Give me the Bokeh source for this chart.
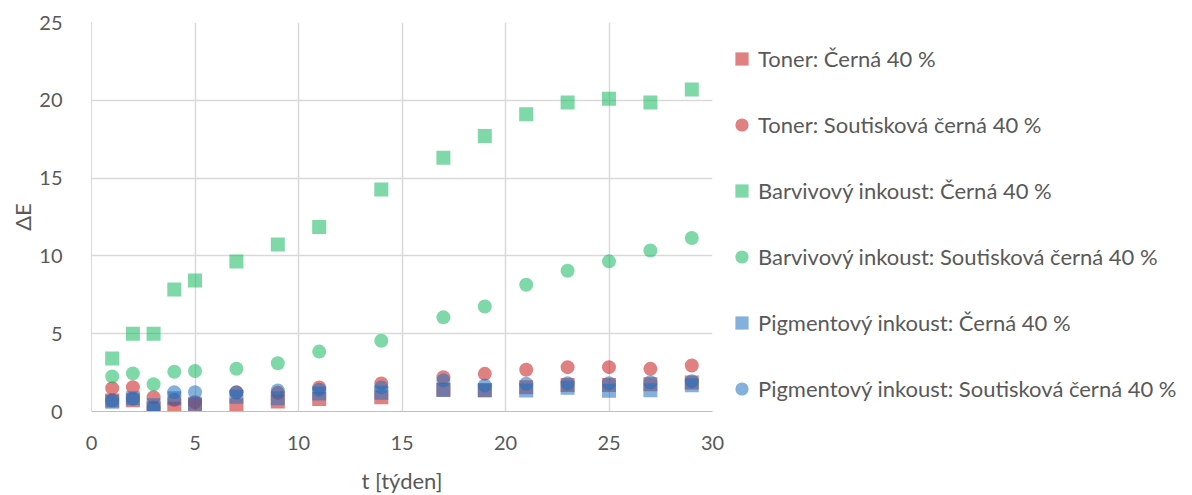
from bokeh.plotting import figure
from bokeh.models import Legend, LegendItem, FixedTicker, ColumnDataSource
from bokeh.embed import file_html
from bokeh.resources import INLINE

# Time in weeks
t = [1, 2, 3, 4, 5, 7, 9, 11, 14, 17, 19, 21, 23, 25, 27, 29]

# Colour difference ΔE per print technology and patch
toner_cerna = [0.70, 0.73, 0.20, 0.18, 0.40, 0.40, 0.65, 0.80, 0.92, 1.40, 1.37, 1.56, 1.70, 1.70, 1.75, 1.86]
toner_soutisk = [1.50, 1.56, 0.92, 0.75, 0.60, 1.22, 1.20, 1.55, 1.80, 2.20, 2.42, 2.68, 2.85, 2.85, 2.74, 2.96]
barv_cerna = [3.40, 5.00, 5.00, 7.84, 8.42, 9.64, 10.73, 11.85, 14.27, 16.30, 17.70, 19.10, 19.86, 20.10, 19.86, 20.70]
barv_soutisk = [2.25, 2.45, 1.75, 2.55, 2.60, 2.75, 3.10, 3.85, 4.55, 6.05, 6.75, 8.15, 9.05, 9.65, 10.35, 11.15]
pigm_cerna = [0.62, 0.85, 0.40, 0.85, 0.50, 0.95, 0.85, 1.15, 1.20, 1.38, 1.37, 1.35, 1.52, 1.33, 1.37, 1.69]
pigm_soutisk = [0.70, 0.82, 0.25, 1.24, 1.24, 1.24, 1.35, 1.40, 1.55, 2.00, 1.67, 1.78, 1.82, 1.82, 1.88, 1.95]

series = [
    ("Toner: Černá 40 %", toner_cerna, "square", "#C61818"),
    ("Toner: Soutisková černá 40 %", toner_soutisk, "circle", "#C61818"),
    ("Barvivový inkoust: Černá 40 %", barv_cerna, "square", "#16B860"),
    ("Barvivový inkoust: Soutisková černá 40 %", barv_soutisk, "circle", "#16B860"),
    ("Pigmentový inkoust: Černá 40 %", pigm_cerna, "square", "#1F6FC0"),
    ("Pigmentový inkoust: Soutisková černá 40 %", pigm_soutisk, "circle", "#1F6FC0"),
]

x_ticks = [0, 5, 10, 15, 20, 25, 30]
y_ticks = [0, 5, 10, 15, 20, 25]

FONT = "Lato"
TEXT = "#595959"
GRID = "#D9D9D9"

p = figure(
    frame_width=621, frame_height=389,
    min_border_left=91, min_border_right=480,
    min_border_top=22, min_border_bottom=84,
    x_range=(0, 30), y_range=(0, 25),
    output_backend="svg", toolbar_location=None,
)
p.outline_line_color = None
p.background_fill_color = "white"
p.border_fill_color = "white"

items = []
for name, vals, marker, color in series:
    src = ColumnDataSource(dict(t=t, v=vals))
    r = p.scatter("t", "v", source=src, marker=marker, size=14,
                  fill_color=color, fill_alpha=0.55, line_color=None)
    items.append(LegendItem(label=name, renderers=[r]))

for ax, ticks in ((p.xaxis, x_ticks), (p.yaxis, y_ticks)):
    ax.ticker = FixedTicker(ticks=ticks)
    ax.major_tick_line_color = None
    ax.minor_tick_line_color = None
    ax.axis_line_color = "#BFBFBF"
    ax.axis_line_width = 1
    ax.major_label_text_font = FONT
    ax.major_label_text_font_size = "20px"
    ax.major_label_text_color = TEXT
    ax.axis_label_text_font = FONT
    ax.axis_label_text_font_size = "22px"
    ax.axis_label_text_color = TEXT
    ax.axis_label_text_font_style = "normal"

p.yaxis.axis_line_color = GRID
p.xaxis.axis_label = "t [týden]"
p.yaxis.axis_label = "ΔE"
p.xaxis.major_label_standoff = 18
p.xaxis.axis_label_standoff = 14
p.yaxis.major_label_standoff = 23
p.yaxis.axis_label_standoff = 0

p.xgrid.grid_line_color = GRID
p.ygrid.grid_line_color = GRID
p.xgrid.grid_line_width = 1.5
p.ygrid.grid_line_width = 1.5

legend = Legend(
    items=items,
    location=(13, 6),
    glyph_width=33, glyph_height=33,
    label_height=33, label_standoff=-4,
    spacing=33, padding=0, margin=0,
    border_line_color=None, background_fill_alpha=0,
    label_text_font=FONT, label_text_font_size="22px",
    label_text_color=TEXT,
)
p.add_layout(legend, "right")

open("out.html", "w").write(file_html(p, INLINE))
